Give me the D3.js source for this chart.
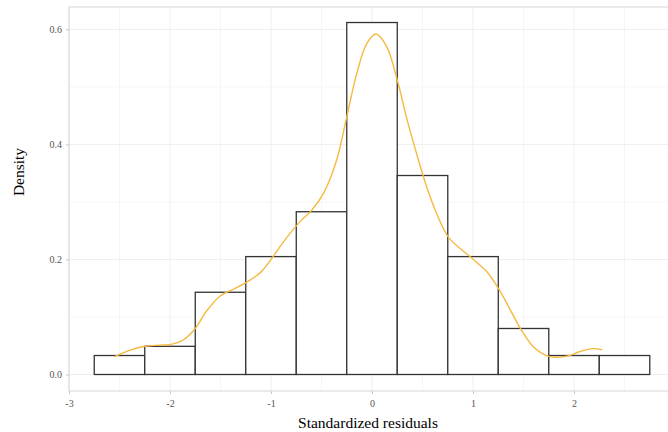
<!DOCTYPE html>
<html>
<head>
<meta charset="utf-8">
<script src="https://cdn.jsdelivr.net/npm/d3@7"></script>
<style>
  body { margin: 0; background: #fff; }
  svg { display: block; font-family: "Liberation Serif", "DejaVu Serif", serif; }
</style>
</head>
<body>
<svg id="chart" width="668" height="432"></svg>
<script>
// histogram bins (binwidth 0.5), centres and densities
var binCenters = [-2.5, -2, -1.5, -1, -0.5, 0, 0.5, 1, 1.5, 2, 2.5];
var binDensity = [0.033, 0.049, 0.143, 0.205, 0.283, 0.612, 0.346, 0.205, 0.080, 0.033, 0.033];
var binWidth = 0.5;

// kernel density curve
var densX = [-2.55, -2.4, -2.25, -2.1, -2.0, -1.87, -1.75, -1.64, -1.5, -1.35, -1.2, -1.1, -1.0,
             -0.9, -0.8, -0.7, -0.6, -0.48, -0.35, -0.25, -0.15, -0.05, 0.04, 0.145, 0.25, 0.34,
             0.44, 0.54, 0.64, 0.76, 0.97, 1.135, 1.25, 1.37, 1.48, 1.61, 1.76, 1.93, 2.06, 2.19, 2.28];
var densY = [0.031, 0.042, 0.049, 0.051, 0.052, 0.060, 0.080, 0.110, 0.137, 0.150, 0.165, 0.178, 0.200,
             0.225, 0.248, 0.268, 0.285, 0.315, 0.373, 0.448, 0.524, 0.576, 0.592, 0.570, 0.512, 0.448,
             0.385, 0.327, 0.280, 0.238, 0.205, 0.179, 0.150, 0.112, 0.077, 0.046, 0.031, 0.032, 0.040, 0.045, 0.043];

var xTicks = [-3, -2, -1, 0, 1, 2];
var xMinor = [-2.5, -1.5, -0.5, 0.5, 1.5, 2.5];
var yTicks = [0.0, 0.2, 0.4, 0.6];
var yMinor = [0.1, 0.3, 0.5];

(function() {
var svg = d3.select('#chart');
var pLeft = 69, pTop = 7, pRight = 672, pBottom = 391;

var x = d3.scaleLinear().domain([-3, 2.97]).range([pLeft, pRight]);
var y = d3.scaleLinear().domain([-0.0287, 0.639]).range([pBottom, pTop]);

// gridlines
var grid = svg.append('g');
grid.selectAll('.xmin').data(xMinor).enter().append('line')
    .attr('x1', function(d) { return x(d); }).attr('x2', function(d) { return x(d); })
    .attr('y1', pTop).attr('y2', pBottom)
    .style('stroke', '#f4f4f4').style('stroke-width', 0.8);
grid.selectAll('.ymin').data(yMinor).enter().append('line')
    .attr('x1', pLeft).attr('x2', pRight)
    .attr('y1', function(d) { return y(d); }).attr('y2', function(d) { return y(d); })
    .style('stroke', '#f4f4f4').style('stroke-width', 0.8);
grid.selectAll('.xmaj').data(xTicks).enter().append('line')
    .attr('x1', function(d) { return x(d); }).attr('x2', function(d) { return x(d); })
    .attr('y1', pTop).attr('y2', pBottom)
    .style('stroke', '#eeeeee').style('stroke-width', 1);
grid.selectAll('.ymaj').data(yTicks).enter().append('line')
    .attr('x1', pLeft).attr('x2', pRight)
    .attr('y1', function(d) { return y(d); }).attr('y2', function(d) { return y(d); })
    .style('stroke', '#eeeeee').style('stroke-width', 1);

// bars
svg.selectAll('rect.bar')
    .data(binCenters)
    .enter()
    .append('rect')
    .attr('class', 'bar')
    .attr('x', function(d) { return x(d - binWidth / 2); })
    .attr('y', function(d, i) { return y(binDensity[i]); })
    .attr('width', function(d) { return x(d + binWidth / 2) - x(d - binWidth / 2); })
    .attr('height', function(d, i) { return y(0) - y(binDensity[i]); })
    .style('fill', '#fff')
    .style('stroke', '#333')
    .style('stroke-width', 1.3);

// density line
var line = d3.line()
    .x(function(d) { return x(d[0]); })
    .y(function(d) { return y(d[1]); })
    .curve(d3.curveCatmullRom.alpha(0.5));
svg.append('path')
    .datum(d3.zip(densX, densY))
    .attr('d', line)
    .style('fill', 'none')
    .style('stroke', '#f5b93f')
    .style('stroke-width', 1.4);

// panel border
svg.append('rect')
    .attr('x', pLeft).attr('y', pTop)
    .attr('width', pRight - pLeft).attr('height', pBottom - pTop)
    .style('fill', 'none').style('stroke', '#d6d6d6').style('stroke-width', 1);

// axes
var xAxis = d3.axisBottom(x).tickValues(xTicks).tickSize(3).tickPadding(6)
    .tickFormat(d3.format('d'));
var gx = svg.append('g').attr('transform', 'translate(0,' + pBottom + ')').call(xAxis);
var yAxis = d3.axisLeft(y).tickValues(yTicks).tickSize(3).tickPadding(4)
    .tickFormat(d3.format('.1f'));
var gy = svg.append('g').attr('transform', 'translate(' + pLeft + ',0)').call(yAxis);

[gx, gy].forEach(function(g) {
    g.attr('font-family', '"Liberation Serif", serif').attr('font-size', 10);
    g.select('.domain').remove();
    g.selectAll('.tick line').style('stroke', '#c8c8c8');
    g.selectAll('.tick text').style('fill', '#555');
});
gx.selectAll('.tick text').text(function(d) { return d < 0 ? '-' + Math.abs(d) : d; });

// axis titles
svg.append('text')
    .attr('x', 368)
    .attr('y', 428)
    .attr('text-anchor', 'middle')
    .style('font-size', '15.5px')
    .style('fill', '#000')
    .text('Standardized residuals');

svg.append('text')
    .attr('transform', 'translate(24,172) rotate(-90)')
    .attr('text-anchor', 'middle')
    .style('font-size', '15.5px')
    .style('fill', '#000')
    .text('Density');
})();
</script>
</body>
</html>
